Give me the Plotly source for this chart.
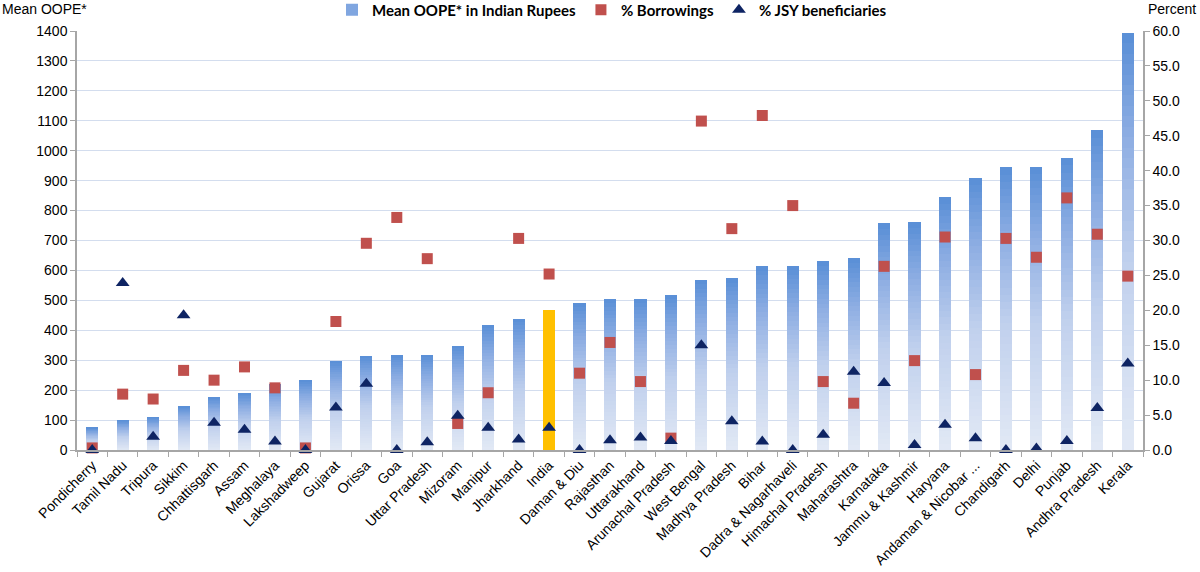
import plotly.graph_objects as go

categories = ["Pondicherry", "Tamil Nadu", "Tripura", "Sikkim", "Chhattisgarh", "Assam",
              "Meghalaya", "Lakshadweep", "Gujarat", "Orissa", "Goa", "Uttar Pradesh",
              "Mizoram", "Manipur", "Jharkhand", "India", "Daman & Diu", "Rajasthan",
              "Uttarakhand", "Arunachal Pradesh", "West Bengal", "Madhya Pradesh", "Bihar",
              "Dadra & Nagarhaveli", "Himachal Pradesh", "Maharashtra", "Karnataka",
              "Jammu & Kashmir", "Haryana", "Andaman & Nicobar ...", "Chandigarh", "Delhi",
              "Punjab", "Andhra Pradesh", "Kerala"]

mean_oope = [75, 100, 110, 147, 177, 190, 222, 234, 297, 314, 317, 318,
             348, 418, 438, 468, 490, 503, 504, 518, 568, 574, 615,
             616, 631, 640, 757, 761, 844, 909, 944, 945,
             975, 1069, 1394]

pct_borrowings = [0.3, 8.0, 7.3, 11.4, 10.0, 11.9, 8.9, 0.3, 18.4, 29.6, 33.3, 27.4,
                  3.8, 8.2, 30.3, 25.2, 11.0, 15.4, 9.8, 1.7, 47.1, 31.7, 47.9,
                  35.0, 9.8, 6.7, 26.3, 12.8, 30.5, 10.8, 30.3, 27.6,
                  36.1, 30.9, 24.9]

pct_jsy = [0.0, 23.9, 1.9, 19.3, 3.9, 2.9, 1.2, 0.0, 6.1, 9.5, 0.0, 1.1,
           4.9, 3.2, 1.5, 3.2, 0.0, 1.4, 1.8, 1.3, 15.0, 4.1, 1.2,
           0.0, 2.2, 11.2, 9.6, 0.7, 3.6, 1.7, 0.0, 0.2,
           1.3, 6.0, 12.4]

left_ticks = list(range(0, 1401, 100))
right_ticks = [i * 5.0 for i in range(13)]

# gradient stops (bottom -> top)
stops = [(0.0, (226, 233, 245)), (0.45, (192, 208, 237)), (0.75, (142, 174, 227)), (1.0, (88, 142, 214))]


def grad(t):
    for (t0, c0), (t1, c1) in zip(stops[:-1], stops[1:]):
        if t <= t1:
            f = (t - t0) / (t1 - t0) if t1 > t0 else 0
            return "rgb(%d,%d,%d)" % tuple(round(a + (b - a) * f) for a, b in zip(c0, c1))
    return "rgb(%d,%d,%d)" % stops[-1][1]


N = 40
fig = go.Figure()
legend_seg = int(N * 0.8)
for k in range(N):
    col = grad((k + 0.5) / N)
    colors = ["#ffc000" if c == "India" else col for c in categories]
    fig.add_trace(go.Bar(
        x=categories, y=[v / N for v in mean_oope], width=0.4,
        marker=dict(color=colors, line=dict(width=0)),
        name="Mean OOPE* in Indian Rupees",
        showlegend=(k == legend_seg), legendrank=1,
        hoverinfo="skip",
    ))

fig.add_trace(go.Scatter(
    x=categories, y=pct_borrowings, yaxis="y2", mode="markers",
    marker=dict(symbol="square", size=11, color="#c0504d"),
    name="% Borrowings", cliponaxis=False, legendrank=2,
))
fig.add_trace(go.Scatter(
    x=categories, y=pct_jsy, yaxis="y2", mode="markers",
    marker=dict(symbol="triangle-up", size=12, color="#0e2463"),
    name="% JSY beneficiaries", cliponaxis=False, legendrank=3,
))

axis_col = "#a6a6a6"
font_family = "Liberation Sans, Arial, sans-serif"

fig.update_layout(
    width=1200, height=572,
    margin=dict(l=77, r=57, t=31, b=122, autoexpand=False),
    paper_bgcolor="white", plot_bgcolor="white",
    barmode="stack",
    font=dict(family=font_family, size=14, color="#000"),
    legend=dict(orientation="h", traceorder="normal", x=(332 - 77) / 1066, xanchor="left",
                y=1 + (31 - 10) / 419, yanchor="middle",
                font=dict(family="Lato, sans-serif", size=15, color="#000", weight="bold"),
                bgcolor="rgba(0,0,0,0)", itemwidth=30, tracegroupgap=0),
    xaxis=dict(type="category", tickangle=-45, ticks="outside", tickson="boundaries",
               ticklen=5, tickcolor=axis_col, showline=True, linecolor=axis_col,
               linewidth=1.5, showgrid=False, tickfont=dict(size=14),
               range=[-0.5, len(categories) - 0.5]),
    yaxis=dict(range=[0, 1400], tickvals=left_ticks, ticks="outside", ticklen=5,
               tickcolor=axis_col, showline=True, linecolor=axis_col, linewidth=1.5,
               showgrid=True, gridcolor="#d3ddee", gridwidth=1, zeroline=False,
               tickfont=dict(size=14)),
    yaxis2=dict(range=[0, 60], tickvals=right_ticks, tickformat=".1f", overlaying="y",
                side="right", ticks="outside", ticklen=5, tickcolor=axis_col,
                showline=True, linecolor=axis_col, linewidth=1.5, showgrid=False,
                zeroline=False, tickfont=dict(size=14)),
    annotations=[
        dict(text="Mean OOPE*", xref="paper", yref="paper", x=-77 / 1066,
             y=1 + (31 - 9) / 419, xanchor="left", yanchor="middle", showarrow=False,
             font=dict(size=14)),
        dict(text="Percent", xref="paper", yref="paper", x=1 + 55 / 1066,
             y=1 + (31 - 9) / 419, xanchor="right", yanchor="middle", showarrow=False,
             font=dict(size=14)),
    ],
)

fig.write_html("out.html", config={"displayModeBar": False},
               post_script="document.body.style.margin='0';document.body.style.overflow='hidden';")
